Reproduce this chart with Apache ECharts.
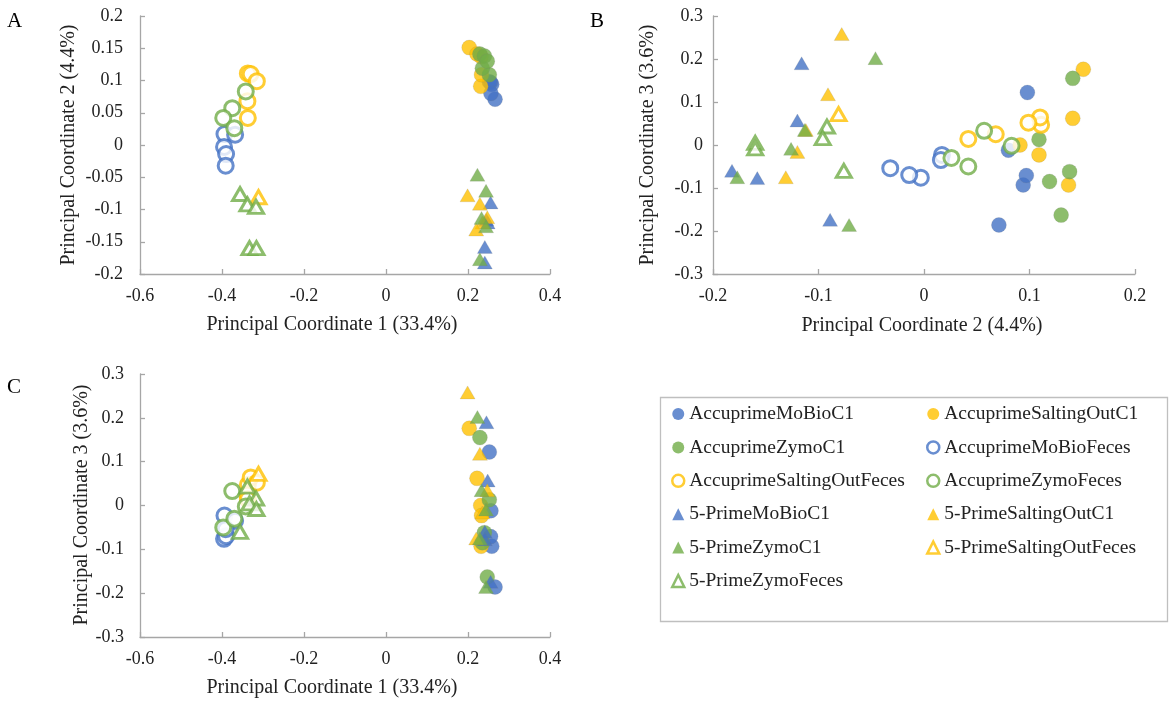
<!DOCTYPE html>
<html>
<head>
<meta charset="utf-8">
<script src="https://cdn.jsdelivr.net/npm/echarts@6/dist/echarts.min.js"></script>
<style>
  html, body { margin: 0; padding: 0; background: #fff; }
  #main { width: 1170px; height: 703px; }
</style>
</head>
<body>
<div id="main"></div>
<script>
// each sample: [PC1, PC2, PC3]
var accMoBioC1 = [[0.266, 0.071, -0.186], [0.258, 0.094, -0.093], [0.255, 0.097, -0.071], [0.252, 0.098, 0.122], [0.256, 0.080, -0.012]];
var accSaltC1 = [[0.203, 0.151, 0.176], [0.222, 0.141, 0.062], [0.231, 0.091, 0.000], [0.233, 0.109, -0.023], [0.232, 0.137, -0.093]];
var accZymoC1 = [[0.229, 0.141, 0.155], [0.252, 0.109, 0.013], [0.235, 0.119, -0.085], [0.240, 0.138, -0.062], [0.247, 0.130, -0.163]];
var accMoBioFeces = [[-0.394, 0.017, -0.023], [-0.368, 0.016, -0.035], [-0.395, -0.003, -0.076], [-0.390, -0.014, -0.070], [-0.391, -0.032, -0.054]];
var accSaltFeces = [[-0.337, 0.111, 0.047], [-0.330, 0.110, 0.064], [-0.315, 0.099, 0.052], [-0.338, 0.068, 0.025], [-0.337, 0.042, 0.014]];
var accZymoFeces = [[-0.342, 0.083, -0.002], [-0.375, 0.057, 0.033], [-0.397, 0.042, -0.050], [-0.370, 0.026, -0.030]];
var p5MoBioC1 = [[0.241, -0.182, -0.060], [0.241, -0.158, -0.077], [0.245, -0.116, 0.190], [0.248, -0.120, 0.057], [0.255, -0.089, -0.174]];
var p5SaltC1 = [[0.199, -0.078, 0.258], [0.229, -0.091, 0.118], [0.247, -0.112, 0.035], [0.235, -0.120, -0.016], [0.220, -0.131, -0.075]];
var p5ZymoC1 = [[0.229, -0.177, -0.075], [0.233, -0.113, 0.035], [0.244, -0.126, -0.009], [0.223, -0.046, 0.202], [0.244, -0.071, -0.186]];
var p5SaltFeces = [[-0.311, -0.081, 0.072]];
var p5ZymoFeces = [[-0.356, -0.076, -0.060], [-0.338, -0.092, 0.043], [-0.317, -0.096, 0.016], [-0.333, -0.160, 0.005], [-0.316, -0.160, -0.008]];

var BLUE = '#4472C4', YELLOW = '#FFC000', GREEN = '#70AD47';
var FONT = 'Liberation Serif';

var groups = [
  { name: 'AccuprimeMoBioC1', data: accMoBioC1, color: BLUE, symbol: 'circle', hollow: false },
  { name: 'AccuprimeSaltingOutC1', data: accSaltC1, color: YELLOW, symbol: 'circle', hollow: false },
  { name: 'AccuprimeZymoC1', data: accZymoC1, color: GREEN, symbol: 'circle', hollow: false },
  { name: 'AccuprimeMoBioFeces', data: accMoBioFeces, color: BLUE, symbol: 'circle', hollow: true },
  { name: 'AccuprimeSaltingOutFeces', data: accSaltFeces, color: YELLOW, symbol: 'circle', hollow: true },
  { name: 'AccuprimeZymoFeces', data: accZymoFeces, color: GREEN, symbol: 'circle', hollow: true },
  { name: '5-PrimeMoBioC1', data: p5MoBioC1, color: BLUE, symbol: 'triangle', hollow: false },
  { name: '5-PrimeSaltingOutC1', data: p5SaltC1, color: YELLOW, symbol: 'triangle', hollow: false },
  { name: '5-PrimeZymoC1', data: p5ZymoC1, color: GREEN, symbol: 'triangle', hollow: false },
  { name: '5-PrimeSaltingOutFeces', data: p5SaltFeces, color: YELLOW, symbol: 'triangle', hollow: true },
  { name: '5-PrimeZymoFeces', data: p5ZymoFeces, color: GREEN, symbol: 'triangle', hollow: true }
];

// panel -> which PCs go on x / y
var panels = [[0, 1], [1, 2], [0, 2]];

var labelStyle = { fontFamily: FONT, fontSize: 18, color: '#222' };
var lineStyle = { color: '#a6a6a6', width: 1.3 };

function makeAxis(idx, min, max, interval, margin) {
  return {
    type: 'value', gridIndex: idx, min: min, max: max, interval: interval,
    axisLine: { show: true, onZero: false, lineStyle: lineStyle },
    axisTick: { show: true, inside: true, length: 5, lineStyle: lineStyle },
    axisLabel: Object.assign({ margin: margin }, labelStyle),
    splitLine: { show: false }
  };
}

function markStyle(g) {
  return g.hollow
    ? { color: '#fff', borderColor: g.color, borderWidth: 3 }
    : { color: g.color, borderColor: 'rgba(120,120,120,0.35)', borderWidth: 0.6 };
}

var series = [];
panels.forEach(function (pc, pi) {
  groups.forEach(function (g) {
    series.push({
      type: 'scatter',
      name: g.name,
      xAxisIndex: pi,
      yAxisIndex: pi,
      symbol: g.symbol,
      symbolSize: g.symbol === 'triangle' ? [15, 13] : 15,
      data: g.data.map(function (p) { return [p[pc[0]], p[pc[1]]]; }),
      itemStyle: markStyle(g),
      emphasis: { disabled: true }
    });
  });
});

function title(text, x, y, rot) {
  return {
    type: 'text', x: x, y: y, rotation: rot || 0,
    style: { text: text, font: '20px "' + FONT + '"', fill: '#222', textAlign: 'center', textVerticalAlign: 'middle' }
  };
}
function letter(text, x, y) {
  return {
    type: 'text', x: x, y: y,
    style: { text: text, font: '21px "' + FONT + '"', fill: '#000', textAlign: 'left', textVerticalAlign: 'middle' }
  };
}

function legendData(col) {
  return groups.filter(function (g, i) { return i % 2 === col; }).map(function (g) {
    return { name: g.name, itemStyle: g.hollow ? { color: '#fff', borderColor: g.color, borderWidth: 2.5 } : { color: g.color, borderWidth: 0 } };
  });
}

var legendCommon = {
  orient: 'vertical', padding: 0, itemWidth: 12, itemHeight: 12, itemGap: 11.4,
  textStyle: { fontFamily: FONT, fontSize: 19.5, color: '#222', lineHeight: 22 },
  selectedMode: false
};

var chart = echarts.init(document.getElementById('main'), null, { renderer: 'canvas' });
chart.setOption({
  backgroundColor: '#fff',
  animation: false,
  grid: [
    { left: 140, top: 16, width: 410, height: 258 },
    { left: 713, top: 16, width: 422, height: 258 },
    { left: 140, top: 374, width: 410, height: 263 }
  ],
  xAxis: [
    makeAxis(0, -0.6, 0.4, 0.2, 13),
    makeAxis(1, -0.2, 0.2, 0.1, 13),
    makeAxis(2, -0.6, 0.4, 0.2, 13)
  ],
  yAxis: [
    makeAxis(0, -0.2, 0.2, 0.05, 17),
    makeAxis(1, -0.3, 0.3, 0.1, 10),
    makeAxis(2, -0.3, 0.3, 0.1, 16)
  ],
  legend: [
    Object.assign({ left: 671, top: 403, data: legendData(0) }, legendCommon),
    Object.assign({ left: 926, top: 403, data: legendData(1) }, legendCommon)
  ],
  graphic: [
    { type: 'rect', shape: { x: 660.5, y: 397.5, width: 507, height: 224 }, style: { fill: 'none', stroke: '#bfbfbf', lineWidth: 1.3 } },
    title('Principal Coordinate 1 (33.4%)', 332, 325),
    title('Principal Coordinate 2 (4.4%)', 69, 145, Math.PI / 2),
    title('Principal Coordinate 2 (4.4%)', 922, 326),
    title('Principal Coordinate 3 (3.6%)', 648, 145, Math.PI / 2),
    title('Principal Coordinate 1 (33.4%)', 332, 688),
    title('Principal Coordinate 3 (3.6%)', 82, 505, Math.PI / 2),
    letter('A', 7, 21),
    letter('B', 590, 21),
    letter('C', 7, 387)
  ],
  series: series
});
</script>
</body>
</html>
